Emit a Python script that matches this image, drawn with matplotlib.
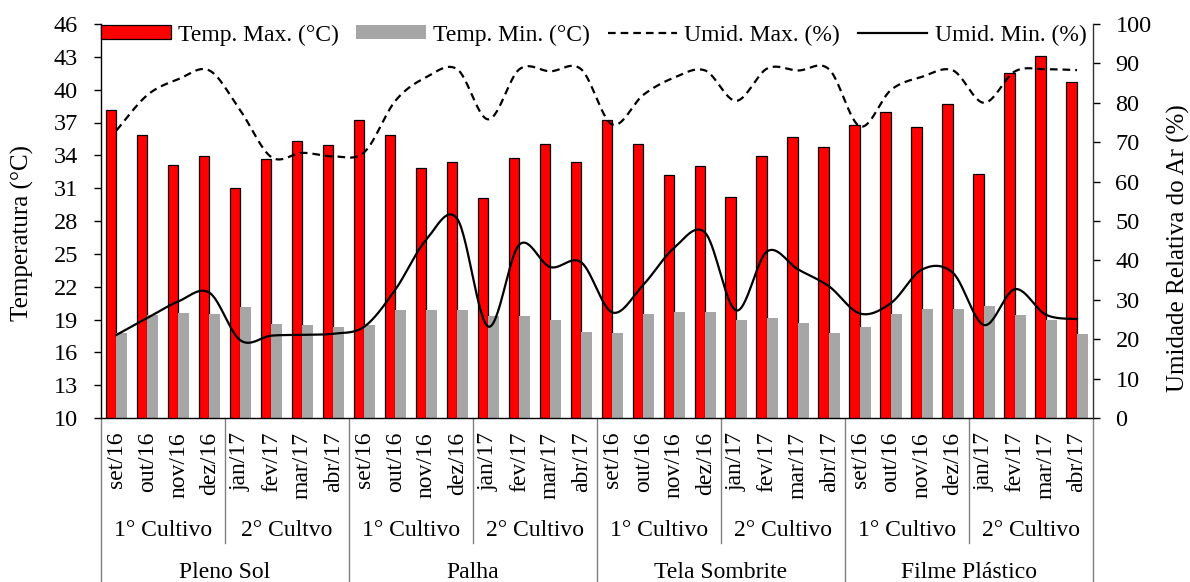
import numpy as np
import matplotlib
matplotlib.use("Agg")
import matplotlib.pyplot as plt
from matplotlib.patches import Patch
from matplotlib.lines import Line2D

plt.rcParams['font.family'] = ['Liberation Serif', 'DejaVu Serif']
plt.rcParams['lines.scale_dashes'] = False

months = ["set/16", "out/16", "nov/16", "dez/16", "jan/17", "fev/17", "mar/17", "abr/17"]
treatments = ["Pleno Sol", "Palha", "Tela Sombrite", "Filme Plástico"]
cycles = [["1° Cultivo", "2° Cultvo"], ["1° Cultivo", "2° Cultivo"],
          ["1° Cultivo", "2° Cultivo"], ["1° Cultivo", "2° Cultivo"]]

temp_max = [38.1, 35.9, 33.1, 33.9, 31.0, 33.7, 35.3, 34.9,
            37.2, 35.9, 32.8, 33.4, 30.1, 33.8, 35.0, 33.4,
            37.2, 35.0, 32.2, 33.0, 30.2, 33.9, 35.7, 34.8,
            36.8, 38.0, 36.6, 38.7, 32.3, 41.5, 43.1, 40.7]
temp_min = [17.8, 19.4, 19.6, 19.5, 20.1, 18.6, 18.5, 18.3,
            18.5, 19.9, 19.9, 19.9, 19.3, 19.3, 19.0, 17.9,
            17.8, 19.5, 19.7, 19.7, 19.0, 19.1, 18.7, 17.8,
            18.3, 19.5, 20.0, 20.0, 20.2, 19.4, 19.0, 17.7]
umid_max = [73.0, 82.0, 86.0, 88.2, 78.0, 66.2, 67.3, 66.4,
            67.5, 80.5, 86.5, 88.5, 75.8, 88.5, 88.0, 88.5,
            74.5, 82.0, 86.4, 88.2, 80.5, 88.7, 88.2, 88.5,
            74.0, 83.3, 86.6, 88.2, 80.0, 88.0, 88.5, 88.3]
umid_min = [21.1, 25.4, 29.6, 31.8, 19.7, 20.9, 21.1, 21.4,
            23.2, 32.6, 45.3, 50.5, 23.2, 44.0, 38.3, 39.5,
            26.8, 33.8, 43.2, 47.0, 27.3, 42.3, 37.7, 33.4,
            26.5, 29.2, 37.7, 36.8, 23.6, 32.7, 26.2, 25.1]

RED = '#FF0000'
GRAY = '#A6A6A6'
FS = 17
TFS = 17.5
LFS = 18


def smooth(y, n=30):
    """Excel-like smoothed line (Catmull-Rom Bezier through the points)."""
    y = np.asarray(y, float)
    x = np.arange(len(y), dtype=float)
    P = np.column_stack([x, y])
    Pe = np.vstack([P[0], P, P[-1]])
    out = []
    t = np.linspace(0, 1, n)[:, None]
    for i in range(len(P) - 1):
        p0, p1, p2, p3 = Pe[i], Pe[i + 1], Pe[i + 2], Pe[i + 3]
        c1 = p1 + (p2 - p0) / 6.0
        c2 = p2 - (p3 - p1) / 6.0
        seg = ((1 - t) ** 3) * p1 + 3 * ((1 - t) ** 2) * t * c1 + 3 * (1 - t) * t ** 2 * c2 + t ** 3 * p2
        out.append(seg if i == 0 else seg[1:])
    out = np.vstack(out)
    return out[:, 0], out[:, 1]


fig = plt.figure(figsize=(11.9, 5.82), dpi=100)
AX_L, AX_R, AX_T, AX_B = 101, 1092.5, 24, 418
ax = fig.add_axes([AX_L / 1190, 1 - AX_B / 582, (AX_R - AX_L) / 1190, (AX_B - AX_T) / 582])
ax2 = ax.twinx()
W = AX_R - AX_L
H = float(AX_B - AX_T)

n = len(temp_max)
x = np.arange(n)
w = 0.345
ax.bar(x - w / 2, temp_max, width=w, color=RED, edgecolor='black', linewidth=0.9, zorder=2)
ax.bar(x + w / 2, temp_min, width=w, color=GRAY, edgecolor='none', zorder=2)

ax.set_xlim(-0.5, n - 0.5)
ax.set_ylim(10, 46)
ax.set_yticks(np.arange(10, 47, 3))
ax.set_xticks([])
ax2.set_ylim(0, 100)
ax2.set_yticks(np.arange(0, 101, 10))

xs, ys = smooth(umid_max)
ax2.plot(xs, ys, color='black', lw=1.6, dashes=(5.5, 3.6), zorder=3)
xs, ys = smooth(umid_min)
ax2.plot(xs, ys, color='black', lw=1.6, zorder=3)

for a in (ax, ax2):
    a.spines['top'].set_visible(False)
    a.tick_params(axis='y', labelsize=TFS, length=5, width=1, pad=11.5, direction='out')
    a.patch.set_visible(False)
ax.spines['right'].set_visible(False)
ax2.spines['left'].set_visible(False)
for s in ('left', 'bottom'):
    ax.spines[s].set_linewidth(1)
ax2.spines['right'].set_linewidth(1)
ax2.spines['right'].set_color('#333333')
ax2.spines['bottom'].set_visible(False)

ax.set_ylabel("Temperatura (°C)", fontsize=LFS)
ax2.set_ylabel("Umidade Relativa do Ar (%)", fontsize=LFS)
ax.yaxis.set_label_coords((22 - AX_L) / W, (AX_B - 233) / H)
ax2.yaxis.set_label_coords((1178 - AX_L) / W, (AX_B - 248) / H)
ax.yaxis.label.set_va('center')
ax2.yaxis.label.set_va('center')

# category axis
tr = ax.get_xaxis_transform()
def fy(px):
    return -(px - AX_B) / H

sep_color = '#808080'
for i in range(n):
    ax.text(i, fy(432), months[i % 8], rotation=90, ha='center', va='top',
            fontsize=FS, transform=tr, clip_on=False)
for g, name in enumerate(treatments):
    ax.text(g * 8 + 3.5, fy(572), name, ha='center', va='center', fontsize=FS, transform=tr)
    for c in range(2):
        ax.text(g * 8 + c * 4 + 1.5, fy(530), cycles[g][c], ha='center', va='center',
                fontsize=FS, transform=tr)
    ax.add_line(Line2D([g * 8 + 3.5, g * 8 + 3.5], [0, fy(543)], color=sep_color, lw=1,
                       transform=tr, clip_on=False))
for b in range(5):
    xb = b * 8 - 0.5
    ax.add_line(Line2D([xb, xb], [0, fy(583)], color=sep_color, lw=1,
                       transform=tr, clip_on=False))

handles = [Patch(facecolor=RED, edgecolor='black', linewidth=0.9),
           Patch(facecolor=GRAY, edgecolor='none'),
           Line2D([], [], color='black', lw=1.6, dashes=(5.5, 3.6)),
           Line2D([], [], color='black', lw=1.6)]
labels = ["Temp. Max. (°C)", "Temp. Min. (°C)", "Umid. Max. (%)", "Umid. Min. (%)"]
ax2.legend(handles, labels, ncol=4, loc='upper left', bbox_to_anchor=(0.0, 0.999),
           frameon=False, fontsize=FS, handlelength=2.95, handleheight=0.5,
           handletextpad=0.3, columnspacing=0.75, borderpad=0, borderaxespad=0)

fig.savefig("out.png", dpi=100)
